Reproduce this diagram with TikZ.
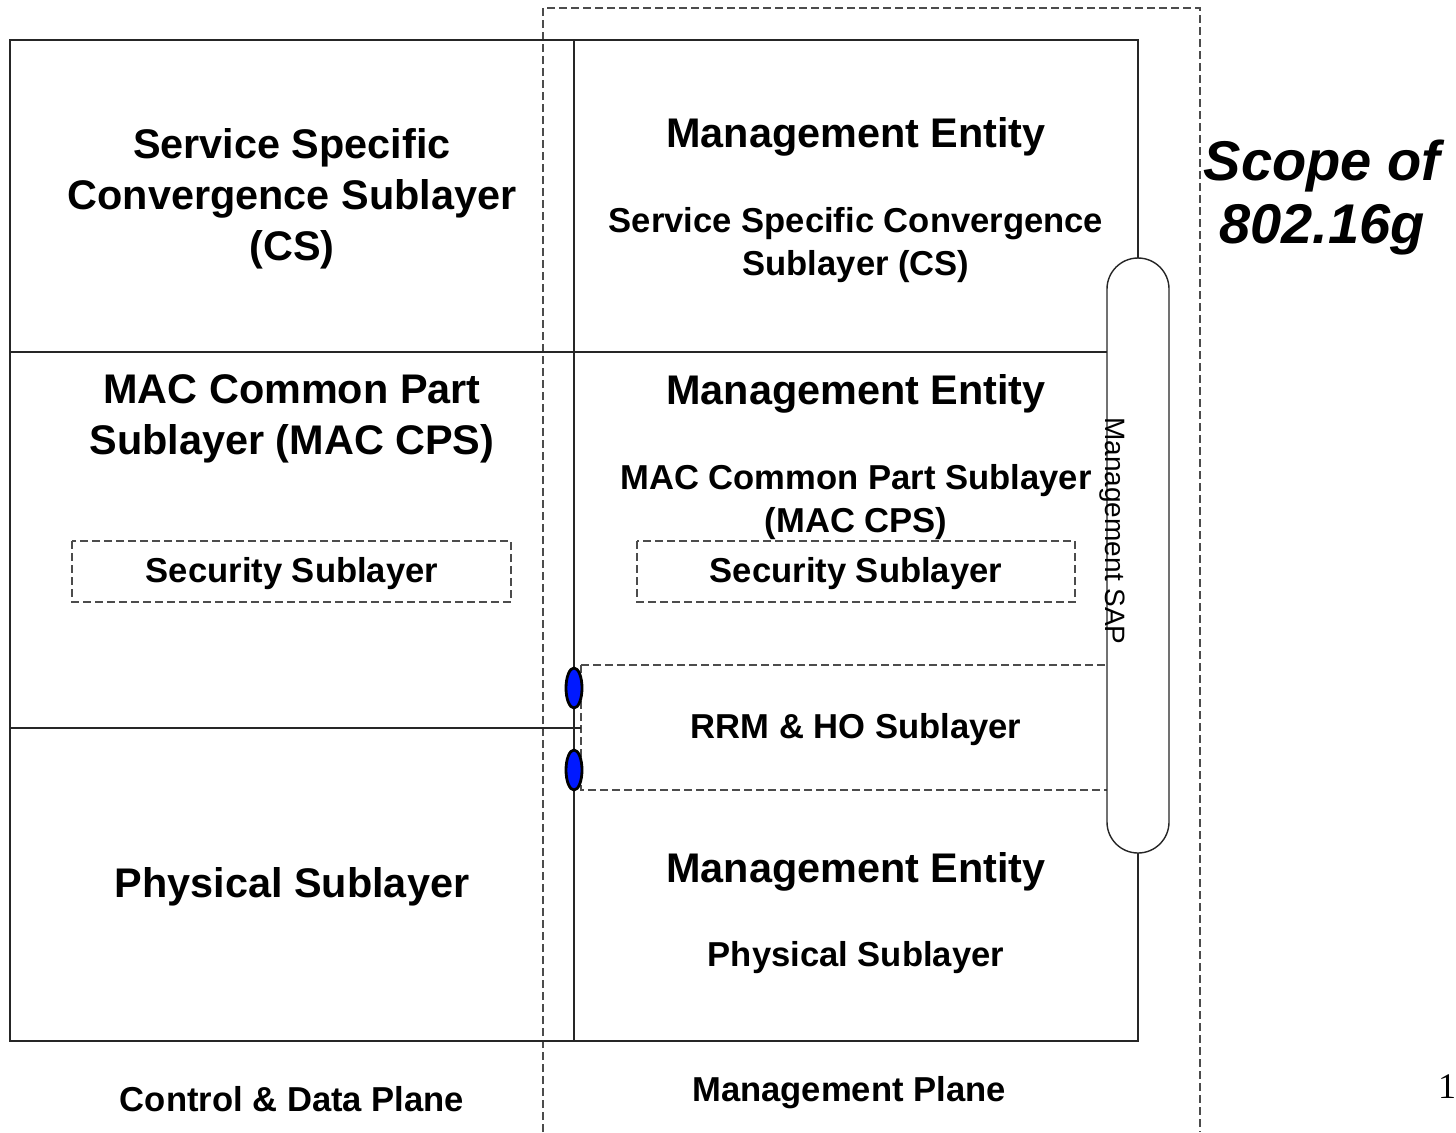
\documentclass[tikz,border=0pt]{standalone}
\usepackage{fontspec}
\setmainfont{Liberation Sans}
\newfontfamily\serifnum{Liberation Serif}
\usetikzlibrary{shapes.geometric}
\begin{document}
\begin{tikzpicture}[x=0.5pt,y=-0.5pt,
 solidln/.style={draw=black!85, line width=0.9pt},
 dashln/.style={draw=black!70, line width=0.6pt, dash pattern=on 4pt off 2pt},
 big/.style={font=\fontsize{20.7}{25.5}\selectfont\bfseries, align=center, inner sep=0pt},
 mid/.style={font=\fontsize{17.3}{21.5}\selectfont\bfseries, align=center, inner sep=0pt},
 scopetxt/.style={font=\fontsize{28}{31.5}\selectfont\bfseries\itshape, align=center, inner sep=0pt},
 sap/.style={font=\fontsize{14}{14}\selectfont, inner sep=0pt, rotate=-90},
 blueell/.style={ellipse, draw=black, fill=blue!90!cyan, line width=1.4pt, minimum width=8pt, minimum height=20pt, inner sep=0pt}
]
\useasboundingbox (0,0) rectangle (1456,1132);
% scope dashed outline
\draw[dashln] (543,1132) -- (543,8) -- (1200,8) -- (1200,1132);
% security dashed boxes
\draw[dashln] (72,541) rectangle (511,602);
\draw[dashln] (637,541) rectangle (1075,602);
% RRM dashed box
\draw[dashln] (581,665) rectangle (1108,790);
% outer solid box
\draw[solidln] (10,40) rectangle (1138,1041);
\draw[solidln] (574,40) -- (574,1041);
\draw[solidln] (10,352) -- (1107,352);
\draw[solidln] (10,728) -- (581,728);
% management SAP capsule
\draw[solidln, fill=white, line width=0.7pt, rounded corners=15.5pt] (1107,258) rectangle (1169,853);
% texts
\node[big] (lcs) at (292,199) {Service Specific\\Convergence Sublayer\\(CS)};
\node[big] (lmac) at (292,419) {MAC Common Part\\Sublayer (MAC CPS)};
\node[mid] (lsec) at (292,574) {Security Sublayer};
\node[big] (lphy) at (292,887) {Physical Sublayer};
\node[big] (me1) at (856,137) {Management Entity};
\node[mid] (rcs) at (856,245) {Service Specific Convergence\\Sublayer (CS)};
\node[big] (me2) at (856,394) {Management Entity};
\node[mid] (rmac) at (856,502) {MAC Common Part Sublayer\\(MAC CPS)};
\node[mid] (rsec) at (856,574) {Security Sublayer};
\node[mid] (rrm) at (856,730) {RRM \& HO Sublayer};
\node[big] (me3) at (856,872) {Management Entity};
\node[mid] (rphy) at (856,958) {Physical Sublayer};
\node[sap] (sapt) at (1112,531) {Management SAP};
\node[mid] (cdp) at (292,1099) {Control \& Data Plane};
\node[mid] (mp) at (849,1093) {Management Plane};
\node[scopetxt] (scope) at (1322,198) {Scope of\\802.16g};
\node[font=\serifnum\fontsize{18}{18}\selectfont, inner sep=0pt] (pg) at (1447,1087) {1};
% blue ellipses
\node[blueell] (e1) at (574,688) {};
\node[blueell] (e2) at (574,770) {};
\end{tikzpicture}
\end{document}
